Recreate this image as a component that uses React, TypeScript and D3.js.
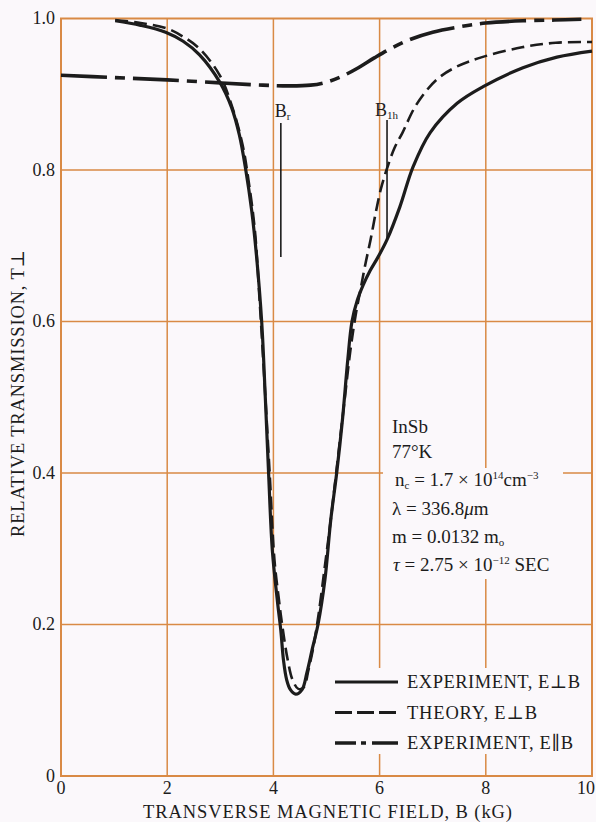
import * as d3 from 'd3';

const W = 596;
const H = 822;
const MARGIN = { top: 18.5, right: 4, bottom: 46, left: 61 };

// axis ticks
const xTicks = [0, 2, 4, 6, 8, 10];
const xTickLabels = ['0', '2', '4', '6', '8', '10'];
const yTicks = [0, 0.2, 0.4, 0.6, 0.8, 1.0];
const yTickLabels = ['0', '0.2', '0.4', '0.6', '0.8', '1.0'];

// EXPERIMENT, E perp B  [B (kG), T]
const expPerp: [number, number][] = [
  [1.02, 0.997], [1.5, 0.991], [1.97, 0.982], [2.3, 0.970], [2.61, 0.952],
  [2.99, 0.916], [3.21, 0.883], [3.36, 0.846], [3.48, 0.800], [3.59, 0.747],
  [3.68, 0.688], [3.78, 0.599], [3.85, 0.496], [3.91, 0.399], [3.98, 0.298],
  [4.08, 0.228], [4.14, 0.192], [4.19, 0.153], [4.25, 0.127], [4.32, 0.114],
  [4.42, 0.108], [4.54, 0.114], [4.63, 0.136], [4.74, 0.170], [4.84, 0.200],
  [4.97, 0.259], [5.08, 0.338], [5.19, 0.399], [5.30, 0.470], [5.40, 0.549],
  [5.48, 0.600], [5.58, 0.628], [5.69, 0.648], [5.82, 0.667], [5.97, 0.685],
  [6.14, 0.708], [6.38, 0.751], [6.63, 0.804], [6.95, 0.849], [7.46, 0.888],
  [7.95, 0.910], [8.70, 0.935], [9.34, 0.949], [10, 0.957],
];

// THEORY, E perp B
const theoryPerp: [number, number][] = [
  [1.02, 0.998], [1.5, 0.994], [1.99, 0.987], [2.3, 0.976], [2.61, 0.960],
  [2.99, 0.925], [3.23, 0.882], [3.42, 0.833], [3.53, 0.787], [3.65, 0.721],
  [3.74, 0.628], [3.83, 0.523], [3.93, 0.399], [4.02, 0.285], [4.10, 0.235],
  [4.17, 0.197], [4.27, 0.153], [4.36, 0.127], [4.47, 0.115], [4.57, 0.117],
  [4.66, 0.140], [4.76, 0.173], [4.85, 0.213], [4.96, 0.272], [5.08, 0.338],
  [5.21, 0.417], [5.34, 0.496], [5.45, 0.562], [5.55, 0.609], [5.64, 0.642],
  [5.73, 0.675], [5.83, 0.708], [5.92, 0.741], [6.02, 0.774], [6.13, 0.800],
  [6.28, 0.829], [6.43, 0.849], [6.69, 0.886], [7.07, 0.919], [7.44, 0.936],
  [7.93, 0.949], [8.68, 0.962], [9.32, 0.968], [10, 0.969],
];

// EXPERIMENT, E parallel B
const expPar: [number, number][] = [
  [0, 0.925], [1, 0.922], [2, 0.919], [3, 0.915], [3.8, 0.912], [4.3, 0.911],
  [4.7, 0.912], [5.0, 0.916], [5.3, 0.924], [5.6, 0.935], [5.9, 0.948],
  [6.2, 0.960], [6.6, 0.973], [7.0, 0.982], [7.5, 0.989], [8.0, 0.994],
  [8.7, 0.997], [9.3, 0.998], [9.8, 0.999],
];

// resonance markers: [B, T top, T bottom]
const markBr = [4.14, 0.862, 0.685];
const markB1h = [6.14, 0.866, 0.708];

const infoLines = ['InSb', '77°K'];

const GRID = '#d98a45';
const INK = '#1c1c1c';
const BG = '#fbf8fb';
const FONT = '"Liberation Serif", "DejaVu Serif", serif';

export default function App() {
  const x = d3.scaleLinear().domain([0, 10]).range([MARGIN.left, W - MARGIN.right]);
  const y = d3.scaleLinear().domain([0, 1]).range([H - MARGIN.bottom, MARGIN.top]);
  const line = d3
    .line<[number, number]>()
    .x(d => x(d[0]))
    .y(d => y(d[1]))
    .curve(d3.curveCatmullRom.alpha(0.5));

  const legendRows = [
    { label: 'EXPERIMENT,  E⊥B', dash: null, w: 3.2, len: 173 },
    { label: 'THEORY,  E⊥B', dash: '17 5', w: 3.2, len: 130 },
    { label: 'EXPERIMENT,  E∥B', dash: '21 5 5 6 30', w: 3.4, len: 166 },
  ];
  const lx0 = 335;
  const lx1 = 398;

  return (
    <svg
      width={W}
      height={H}
      style={{ position: 'absolute', left: 0, top: 0, fontFamily: FONT }}
    >
      <rect width={W} height={H} fill={BG} />

      {/* grid */}
      {xTicks.slice(1, -1).map(t => (
        <line key={'gx' + t} x1={x(t)} x2={x(t)} y1={y(0)} y2={y(1)} stroke={GRID} strokeWidth={1.5} />
      ))}
      {yTicks.slice(1, -1).map(t => (
        <line key={'gy' + t} x1={x(0)} x2={x(10)} y1={y(t)} y2={y(t)} stroke={GRID} strokeWidth={1.5} />
      ))}
      <rect x={x(0)} y={y(1)} width={x(10) - x(0)} height={y(0) - y(1)} fill="none" stroke={GRID} strokeWidth={2} />

      {/* white boxes behind text blocks */}
      <rect x={383} y={468} width={180} height={111} fill={BG} />
      <rect x={326} y={668} width={262} height={86} fill={BG} />

      {/* tick labels */}
      {xTicks.map((t, i) => (
        <text
          key={'tx' + t}
          x={i === xTicks.length - 1 ? W - 1 : x(t)}
          y={794}
          textAnchor={i === xTicks.length - 1 ? 'end' : 'middle'}
          fontSize={18}
          fill={INK}
        >
          {xTickLabels[i]}
        </text>
      ))}
      {yTicks.map((t, i) => (
        <text key={'ty' + t} x={55} y={y(t)} dy="0.33em" textAnchor="end" fontSize={18} fill={INK}>
          {yTickLabels[i]}
        </text>
      ))}

      {/* axis titles */}
      <text x={143} y={818} fontSize={18.5} fill={INK} textLength={369} lengthAdjust="spacing">
        TRANSVERSE  MAGNETIC  FIELD,  B  (kG)
      </text>
      <text
        transform="translate(24,537) rotate(-90)"
        fontSize={18.5}
        fill={INK}
        textLength={287}
        lengthAdjust="spacing"
      >
        RELATIVE  TRANSMISSION,  T⊥
      </text>

      {/* curves */}
      <path d={line(expPar) ?? ''} fill="none" stroke={INK} strokeWidth={3.6} strokeDasharray="46 8 10 8" />
      <path d={line(theoryPerp) ?? ''} fill="none" stroke={INK} strokeWidth={2.6} strokeDasharray="13 6" />
      <path d={line(expPerp) ?? ''} fill="none" stroke={INK} strokeWidth={3.2} />

      {/* resonance markers */}
      <line x1={x(markBr[0])} x2={x(markBr[0])} y1={y(markBr[1])} y2={y(markBr[2])} stroke={INK} strokeWidth={1.6} />
      <text x={x(markBr[0]) - 6} y={y(markBr[1]) - 6} fontSize={18} fill={INK}>
        B<tspan fontSize={11} dy={3}>r</tspan>
      </text>
      <line x1={x(markB1h[0])} x2={x(markB1h[0])} y1={y(markB1h[1])} y2={y(markB1h[2])} stroke={INK} strokeWidth={1.6} />
      <text x={x(markB1h[0]) - 12} y={y(markB1h[1]) - 4} fontSize={18} fill={INK}>
        B<tspan fontSize={11} dy={3}>1h</tspan>
      </text>

      {/* sample info */}
      {infoLines.map((s, i) => (
        <text key={s} x={392} y={433 + i * 25} fontSize={19} fill={INK}>
          {s}
        </text>
      ))}
      <text x={395} y={486} fontSize={19} fill={INK}>
        n<tspan fontSize={11} dy={3}>c</tspan>
        <tspan dy={-3}> = 1.7 × 10</tspan>
        <tspan fontSize={11} dy={-7}>14</tspan>
        <tspan dy={7}>cm</tspan>
        <tspan fontSize={11} dy={-7}>−3</tspan>
      </text>
      <text x={392} y={515} fontSize={19} fill={INK}>
        λ = 336.8<tspan fontStyle="italic">μ</tspan>m
      </text>
      <text x={392} y={543} fontSize={19} fill={INK}>
        m = 0.0132  m<tspan fontSize={11} dy={3}>o</tspan>
      </text>
      <text x={393} y={571} fontSize={19} fill={INK}>
        <tspan fontStyle="italic">τ</tspan> = 2.75 × 10
        <tspan fontSize={11} dy={-7}>−12</tspan>
        <tspan dy={7}>  SEC</tspan>
      </text>

      {/* legend */}
      {legendRows.map((r, i) => {
        const ly = 682 + i * 30.5;
        return (
          <g key={r.label}>
            <line
              x1={lx0}
              x2={lx1}
              y1={ly}
              y2={ly}
              stroke={INK}
              strokeWidth={r.w}
              strokeDasharray={r.dash ?? undefined}
            />
            <text x={407} y={ly} dy="0.35em" fontSize={18.5} fill={INK} textLength={r.len} lengthAdjust="spacing">
              {r.label}
            </text>
          </g>
        );
      })}
    </svg>
  );
}
